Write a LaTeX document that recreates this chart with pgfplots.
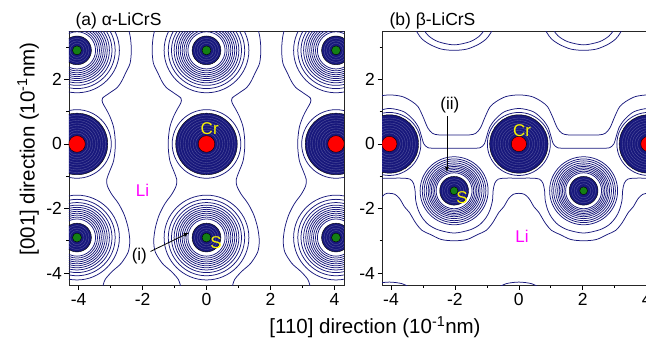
\documentclass[border=0pt]{standalone}
\usepackage{pgfplots}
\pgfplotsset{compat=1.18}
\usepackage{pgfplotstable}
\usepackage{fontspec}
\setmainfont{Liberation Sans}
\definecolor{cnavy}{RGB}{24,24,124}
\definecolor{cred}{RGB}{255,0,0}
\definecolor{cgreen}{RGB}{20,128,20}
\definecolor{cyel}{RGB}{250,245,0}
\definecolor{cmag}{RGB}{255,0,255}

% atom positions
\pgfplotstableread{
x y
-4.05 0
0 0
4.05 0
}\CrA
\pgfplotstableread{
x y
-4.05 2.9
0 2.9
4.05 2.9
-4.05 -2.9
0 -2.9
4.05 -2.9
}\SA
\pgfplotstableread{
x y
-4.05 0
0 0
4.05 0
}\CrB
\pgfplotstableread{
x y
-2.025 -1.45
2.025 -1.45
}\SB
\pgfplotstableread{
x y
-2.025 4.35
2.025 4.35
}\SBtop

% alpha: wavy column boundaries
\pgfplotstableread{
y a b c e
3.6 -2.45 -1.60 1.60 2.45
3.3 -2.38 -1.67 1.67 2.38
2.9 -2.35 -1.70 1.70 2.35
2.5 -2.39 -1.66 1.66 2.39
2.2 -2.53 -1.52 1.52 2.53
1.95 -2.65 -1.40 1.40 2.65
1.75 -2.79 -1.26 1.26 2.79
1.58 -3.03 -1.02 1.02 3.03
1.42 -3.25 -0.80 0.80 3.25
1.28 -3.25 -0.80 0.80 3.25
1.1 -3.15 -0.90 0.90 3.15
0.85 -3.02 -1.03 1.03 3.02
0.5 -2.90 -1.15 1.15 2.90
0.0 -2.85 -1.20 1.20 2.85
-0.5 -2.90 -1.15 1.15 2.90
-0.85 -3.03 -1.02 1.02 3.03
-1.1 -3.12 -0.93 0.93 3.12
-1.3 -3.10 -0.95 0.95 3.10
-1.55 -2.97 -1.08 1.08 2.97
-1.85 -2.75 -1.30 1.30 2.75
-2.2 -2.57 -1.48 1.48 2.57
-2.6 -2.45 -1.60 1.60 2.45
-3.0 -2.40 -1.65 1.65 2.40
-3.35 -2.45 -1.60 1.60 2.45
-3.7 -2.67 -1.38 1.38 2.67
-3.95 -2.95 -1.10 1.10 2.95
-4.2 -3.17 -0.88 0.88 3.17
-4.45 -3.25 -0.80 0.80 3.25
}\ALines

% beta lines
\pgfplotstableread{
x y
-4.45 1.47
-4.05 1.52
-3.65 1.47
-3.35 1.32
-3.15 1.15
-3.0 0.85
-2.85 0.5
-2.7 0.33
-2.5 0.28
-2.025 0.28
-1.55 0.28
-1.35 0.33
-1.2 0.5
-1.05 0.85
-0.9 1.15
-0.7 1.32
-0.4 1.47
0 1.52
0.4 1.47
0.7 1.32
0.9 1.15
1.05 0.85
1.2 0.5
1.35 0.33
1.55 0.28
2.025 0.28
2.5 0.28
2.7 0.33
2.85 0.5
3.0 0.85
3.15 1.15
3.35 1.32
3.65 1.47
4.05 1.52
4.45 1.47
}\LA
\pgfplotstableread{
x y
-4.5 1.0
-4.05 1.1
-3.6 1.0
-3.3 0.75
-3.13 0.5
-3.05 0.25
-2.97 0.0
-2.85 -0.11
-2.7 -0.13
-2.025 -0.13
-1.35 -0.13
-1.2 -0.11
-1.08 0.0
-1.0 0.25
-0.92 0.5
-0.75 0.75
-0.45 1.0
0 1.1
0.45 1.0
0.75 0.75
0.92 0.5
1.0 0.25
1.08 0.0
1.2 -0.11
1.35 -0.13
2.025 -0.13
2.7 -0.13
2.85 -0.11
2.97 0.0
3.05 0.25
3.13 0.5
3.3 0.75
3.6 1.0
4.05 1.1
4.5 1.0
}\LB
\pgfplotstableread{
x y
-4.45 -1.06
-4.05 -1.06
-3.625 -1.06
-3.405 -1.09
-3.295 -1.22
-3.245 -1.45
-3.225 -1.75
-3.145 -2.05
-3.025 -2.28
-2.825 -2.5
-2.525 -2.66
-2.025 -2.76
-1.525 -2.66
-1.225 -2.5
-1.025 -2.28
-0.905 -2.05
-0.825 -1.75
-0.805 -1.45
-0.755 -1.22
-0.645 -1.09
-0.425 -1.06
0 -1.06
0.425 -1.06
0.645 -1.09
0.755 -1.22
0.805 -1.45
0.825 -1.75
0.905 -2.05
1.025 -2.28
1.225 -2.5
1.525 -2.66
2.025 -2.76
2.525 -2.66
2.825 -2.5
3.025 -2.28
3.145 -2.05
3.225 -1.75
3.245 -1.45
3.295 -1.22
3.405 -1.09
3.625 -1.06
4.05 -1.06
4.45 -1.06
}\LD
\pgfplotstableread{
x y
-4.45 -1.83
-4.2 -1.56
-4.05 -1.53
-3.875 -1.56
-3.725 -1.7
-3.575 -1.95
-3.425 -2.12
-3.225 -2.45
-3.025 -2.68
-2.775 -2.8
-2.425 -2.96
-2.025 -3.0
-1.625 -2.96
-1.275 -2.8
-1.025 -2.68
-0.825 -2.45
-0.625 -2.12
-0.475 -1.95
-0.325 -1.7
-0.175 -1.56
0 -1.53
0.175 -1.56
0.325 -1.7
0.475 -1.95
0.625 -2.12
0.825 -2.45
1.025 -2.68
1.275 -2.8
1.625 -2.96
2.025 -3.0
2.425 -2.96
2.775 -2.8
3.025 -2.68
3.225 -2.45
3.425 -2.12
3.575 -1.95
3.725 -1.7
3.875 -1.56
4.05 -1.53
4.2 -1.56
4.45 -1.83
}\LE
% top arcs (S atoms above the frame)
\pgfplotstableread{
x y
-3.325 3.75
-3.175 3.45
-3.025 3.25
-2.775 3.08
-2.425 2.94
-2.025 2.9
-1.625 2.94
-1.275 3.08
-1.025 3.25
-0.875 3.45
-0.725 3.75
}\TEa
\pgfplotstableread{
x y
0.725 3.75
0.875 3.45
1.025 3.25
1.275 3.08
1.625 2.94
2.025 2.9
2.425 2.94
2.775 3.08
3.025 3.25
3.175 3.45
3.325 3.75
}\TEb
\pgfplotstableread{
x y
-3.075 3.8
-2.975 3.55
-2.825 3.35
-2.525 3.17
-2.025 3.07
-1.525 3.17
-1.225 3.35
-1.075 3.55
-0.975 3.8
}\TDa
\pgfplotstableread{
x y
0.975 3.8
1.075 3.55
1.225 3.35
1.525 3.17
2.025 3.07
2.525 3.17
2.825 3.35
2.975 3.55
3.075 3.8
}\TDb
% bumps of the next Cr row below the frame
\pgfplotstableread{
x y
-4.75 -4.48
-4.45 -4.33
-4.05 -4.28
-3.65 -4.33
-3.35 -4.48
}\BTa
\pgfplotstableread{
x y
-0.7 -4.48
-0.4 -4.33
0 -4.28
0.4 -4.33
0.7 -4.48
}\BTb

\pgfplotsset{
  ring/.style={only marks, mark=o, mark size=#1pt, mark options={draw=cnavy, line width=0.75pt}},
  disc/.style={only marks, mark=*, mark size=#1pt, mark options={fill=cnavy, draw=none}},
  tex/.style={only marks, mark=o, mark size=#1pt, mark options={draw=white, line width=0.3pt, draw opacity=0.3}},
  cline/.style={cnavy, line width=0.75pt, smooth, mark=none},
  panel/.style={
    scale only axis, width=275pt, height=254pt,
    ymin=-4.37, ymax=3.5,
    xtick={-4,-2,0,2,4}, xticklabels={-4,-2,0,2,4},
    ytick={-4,-2,0,2}, yticklabels={-4,-2,0,2},
    minor xtick={-3,-1,1,3}, minor ytick={-3,-1,1,3},
    tick pos=left, tick align=outside,
    major tick length=4.5pt, minor tick length=2.5pt,
    every tick/.style={black, line width=0.7pt},
    axis line style={black!85, line width=0.7pt},
    ticklabel style={font=\fontsize{17.5}{17.5}\selectfont},
    yticklabel style={xshift=1pt},
    clip marker paths=true,
  },
}
\tikzset{lab/.style={font=\fontsize{17}{17}\selectfont}}

\begin{document}
\begin{tikzpicture}
% ---------------- panel (a)
\begin{axis}[panel, at={(69pt,56pt)}, anchor=south west, xmin=-4.3, xmax=4.3]
\addplot[cline] table[x=a, y=y] {\ALines};
\addplot[cline] table[x=b, y=y] {\ALines};
\addplot[cline] table[x=c, y=y] {\ALines};
\addplot[cline] table[x=e, y=y] {\ALines};
\pgfplotsinvokeforeach{18.6,20.5,22.5,24.4,26.3,28.2,30.2,32.4,35.0,38.2,42.4}{
  \addplot[ring=#1] table {\SA};
}
\addplot[ring=34.3] table {\CrA};
\addplot[disc=30.8] table {\CrA};
\pgfplotsinvokeforeach{11,13.5,16,18.5,21,23.5,26,28.5}{
  \addplot[tex=#1] table {\CrA};
}
\addplot[disc=14.4] table {\SA};
\pgfplotsinvokeforeach{7,9.5,12}{
  \addplot[tex=#1] table {\SA};
}
\addplot[only marks, mark=*, mark size=8.3pt, mark options={fill=cred, draw=none}] table {\CrA};
\addplot[only marks, mark=*, mark size=4.5pt, mark options={fill=cgreen, draw=none}] table {\SA};
\node[lab, text=cyel] at (axis cs:0.1,0.47) {Cr};
\node[lab, text=cyel] at (axis cs:0.3,-3.05) {S};
\node[lab, text=cmag] at (axis cs:-2.0,-1.45) {Li};
\node[lab, text=black] at (axis cs:-2.1,-3.47) {(i)};
\draw[-latex, black, line width=0.8pt] (axis cs:-1.75,-3.33) -- (axis cs:-0.55,-2.75);
\end{axis}
% ---------------- panel (b)
\begin{axis}[panel, at={(382pt,56pt)}, anchor=south west, xmin=-4.28, xmax=4.32]
\addplot[cline] table {\LA};
\addplot[cline] table {\LB};
\addplot[cline] table {\LD};
\addplot[cline] table {\LE};
\addplot[cline] table {\TEa};
\addplot[cline] table {\TEb};
\addplot[cline] table {\TDa};
\addplot[cline] table {\TDb};
\addplot[cline] table {\BTa};
\addplot[cline] table {\BTb};
\pgfplotsinvokeforeach{18,19.6,21.2,22.8,24.4,26,27.9,29.9,31.8,34.0}{
  \addplot[ring=#1] table {\SB};
  \addplot[ring=#1] table {\SBtop};
}
\addplot[ring=31.5] table {\CrB};
\addplot[disc=29.2] table {\CrB};
\pgfplotsinvokeforeach{11,13.5,16,18.5,21,23.5,26}{
  \addplot[tex=#1] table {\CrB};
}
\addplot[disc=14.4] table {\SB};
\pgfplotsinvokeforeach{7,9.5,12}{
  \addplot[tex=#1] table {\SB};
}
\addplot[only marks, mark=*, mark size=7.6pt, mark options={fill=cred, draw=none}] table {\CrB};
\addplot[only marks, mark=*, mark size=3.9pt, mark options={fill=cgreen, draw=none}] table {\SB};
\node[lab, text=cyel] at (axis cs:0.1,0.4) {Cr};
\node[lab, text=cyel] at (axis cs:-1.78,-1.66) {S};
\node[lab, text=cmag] at (axis cs:0.1,-2.85) {Li};
\node[lab, text=black] at (axis cs:-2.16,1.19) {(ii)};
\draw[-latex, black, line width=0.8pt] (axis cs:-2.25,0.86) -- (axis cs:-2.25,-0.87);
\end{axis}
% ---------------- titles and labels
\node[anchor=west, font=\fontsize{17.5}{17.5}\selectfont] at (72pt,320pt) {(a) α-LiCrS};
\node[anchor=west, font=\fontsize{17.5}{17.5}\selectfont] at (386pt,320pt) {(b) β-LiCrS};
\node[rotate=90, font=\fontsize{20.5}{20.5}\selectfont] at (28pt,192pt) {[001] direction (10\textsuperscript{-1}nm)};
\node[font=\fontsize{20.5}{20.5}\selectfont] at (375pt,14pt) {[110] direction (10\textsuperscript{-1}nm)};
\pgfresetboundingbox
\useasboundingbox (0,0) rectangle (646pt,341pt);
\end{tikzpicture}
\end{document}
